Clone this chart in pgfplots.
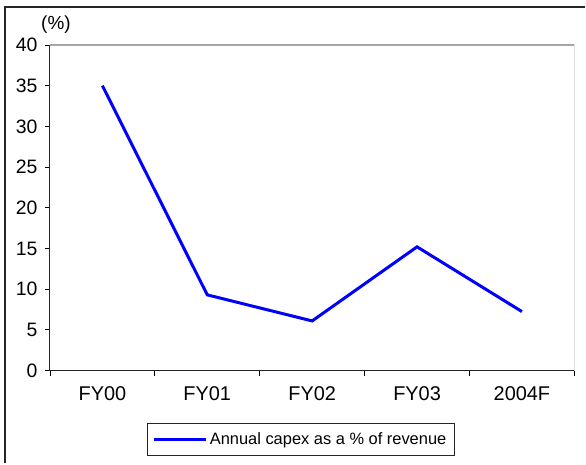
\documentclass[border=0pt]{standalone}
\usepackage{fontspec}
\setmainfont{Liberation Sans}
\usepackage{pgfplots}
\pgfplotsset{compat=1.18}
\begin{document}
\begin{tikzpicture}[x=1bp,y=1bp]
\path (-50,-93) rectangle (536,371);
\draw[line width=1.3bp, black!85] (-45,-93) -- (-45,364) -- (536,364);
\begin{axis}[
  at={(0,0)}, anchor=south west,
  scale only axis, width=525bp, height=326bp,
  xmin=0, xmax=5, ymin=0, ymax=40,
  axis lines=left,
  axis line style={-, line width=1bp, black!85},
  tick align=outside,
  major tick length=5bp, minor tick length=5bp,
  ytick={0,5,...,40},
  xtick={0.5,1.5,2.5,3.5,4.5},
  xticklabels={FY00,FY01,FY02,FY03,2004F},
  minor xtick={0,1,2,3,4,5},
  major x tick style={draw=none},
  tick style={line width=0.8bp, black},
  yticklabel style={font=\fontsize{19.5}{19.5}\selectfont, xshift=-4bp},
  xticklabel style={font=\fontsize{20}{20}\selectfont, yshift=-8bp},
  /pgf/number format/assume math mode=true,
  legend style={at={(rel axis cs:0.478,-0.2117)}, anchor=center,
    draw=black!85, line width=0.8bp, font=\fontsize{16.5}{16.5}\selectfont,
    inner ysep=7bp, inner xsep=6bp},
  legend image code/.code={\draw[#1] (0bp,0bp) -- (52bp,0bp);},
]
\draw[gray!70, line width=1.3bp] (rel axis cs:0,1) -- (rel axis cs:1,1) -- (rel axis cs:1,0);
\addplot[blue, line width=3bp] coordinates {(0.5,35) (1.5,9.3) (2.5,6.1) (3.5,15.2) (4.5,7.25)};
\addlegendentry{Annual capex as a \% of revenue}
\end{axis}
\node[font=\fontsize{19}{19}\selectfont] at (6,346) {(\%)};
\end{tikzpicture}
\end{document}
